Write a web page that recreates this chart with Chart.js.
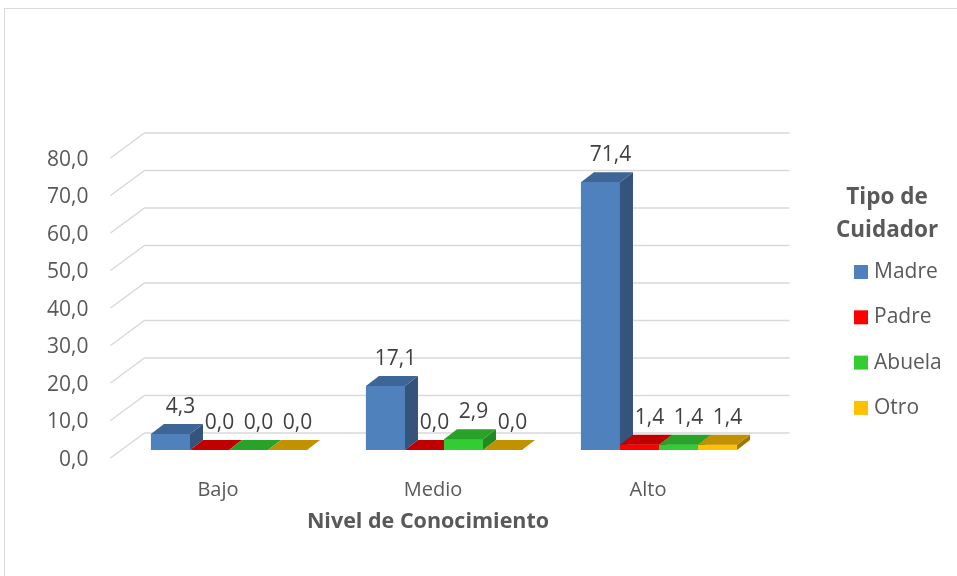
<!DOCTYPE html>
<html>
<head>
<meta charset="utf-8">
<script src="https://cdn.jsdelivr.net/npm/chart.js@4.4.1/dist/chart.umd.min.js"></script>
<style>
  html, body { margin: 0; padding: 0; background: #fff; }
  canvas { display: block; }
</style>
</head>
<body>
<canvas id="chart" width="957" height="576"></canvas>
<script>
// Data
const categories = ['Bajo', 'Medio', 'Alto'];
const seriesNames = ['Madre', 'Padre', 'Abuela', 'Otro'];
const madre = [4.3, 17.1, 71.4];
const padre = [0.0, 0.0, 1.4];
const abuela = [0.0, 2.9, 1.4];
const otro = [0.0, 0.0, 1.4];
const yTicks = [0, 10, 20, 30, 40, 50, 60, 70, 80];
const legendTitle = ['Tipo de', 'Cuidador'];
const xTitle = 'Nivel de Conocimiento';

// Colours (front / top / side faces)
const frontColors = ['#4F81BD', '#FF0000', '#33CC33', '#FFC000'];
const topColors = ['#3D6596', '#C00000', '#29A229', '#C09100'];
const sideColors = ['#34547C', '#A00000', '#208A20', '#A07800'];

const FONT = "'Open Sans', sans-serif";
const TEXT = '#595959';

// 3D geometry: depth of a bar, and where the front edge / back wall sit
const DX = 13, DY = 10;
const FRONT_X = -11, FRONT_Y = 8;
const BACK_X = 23, BACK_Y = -17;

const fmt = v => v.toFixed(1).replace('.', ',');

function poly(ctx, pts) {
    ctx.beginPath();
    ctx.moveTo(pts[0][0], pts[0][1]);
    for (let i = 1; i < pts.length; i++) ctx.lineTo(pts[i][0], pts[i][1]);
    ctx.closePath();
    ctx.fill();
}

const bars3d = {
    id: 'bars3d',
    beforeDraw(chart) {
        const ctx = chart.ctx;
        ctx.save();
        ctx.strokeStyle = '#D9D9D9';
        ctx.lineWidth = 1;
        ctx.strokeRect(4.5, 8.5, 1200, 1200);
        ctx.restore();
    },
    beforeDatasetsDraw(chart) {
        // back wall grid with the slanted side wall part
        const { ctx, chartArea, scales: { y } } = chart;
        ctx.save();
        ctx.strokeStyle = '#D9D9D9';
        ctx.lineWidth = 1.5;
        y.ticks.forEach(t => {
            const py = y.getPixelForValue(t.value);
            ctx.beginPath();
            ctx.moveTo(chartArea.left + FRONT_X, py + FRONT_Y);
            ctx.lineTo(chartArea.left + BACK_X, py + BACK_Y);
            ctx.lineTo(chartArea.right + BACK_X, py + BACK_Y);
            ctx.stroke();
        });
        ctx.restore();
    },
    afterDatasetsDraw(chart) {
        const ctx = chart.ctx;
        const metas = chart.data.datasets.map((d, i) => chart.getDatasetMeta(i));
        ctx.save();
        categories.forEach((c, ci) => {
            metas.forEach((meta, di) => {
                const bar = meta.data[ci];
                const x0 = bar.x - bar.width / 2, x1 = bar.x + bar.width / 2;
                const top = bar.y, base = bar.base;
                if (base - top > 0.5) {
                    ctx.fillStyle = frontColors[di];
                    ctx.fillRect(x0, top, x1 - x0, base - top);
                    ctx.fillStyle = sideColors[di];
                    poly(ctx, [[x1, top], [x1 + DX, top - DY], [x1 + DX, base - DY], [x1, base]]);
                }
                ctx.fillStyle = topColors[di];
                poly(ctx, [[x0, top], [x1, top], [x1 + DX, top - DY], [x0 + DX, top - DY]]);
            });
        });
        // value labels
        ctx.fillStyle = '#404040';
        ctx.font = '21px ' + FONT;
        ctx.textAlign = 'center';
        ctx.textBaseline = 'middle';
        metas.forEach((meta, di) => {
            meta.data.forEach((bar, ci) => {
                const v = chart.data.datasets[di].data[ci];
                ctx.fillText(fmt(v), bar.x + 10, bar.y - 27);
            });
        });
        ctx.restore();
    },
    afterDraw(chart) {
        const { ctx, chartArea } = chart;
        ctx.save();
        ctx.fillStyle = TEXT;
        ctx.textAlign = 'center';
        ctx.textBaseline = 'middle';
        // x axis title
        ctx.font = 'bold 21.5px ' + FONT;
        ctx.fillText(xTitle, (chartArea.left + chartArea.right) / 2 + FRONT_X - 5, 522);
        // legend
        ctx.font = 'bold 22.5px ' + FONT;
        legendTitle.forEach((line, i) => ctx.fillText(line, 887, 198 + i * 33));
        ctx.font = '21px ' + FONT;
        ctx.textAlign = 'left';
        chart.data.datasets.forEach((ds, i) => {
            const cy = 272 + i * 45.3;
            ctx.fillStyle = frontColors[i];
            ctx.fillRect(854, cy - 7, 14, 14);
            ctx.fillStyle = TEXT;
            ctx.fillText(ds.label, 874, cy);
        });
        ctx.restore();
    }
};

const seriesData = [madre, padre, abuela, otro];

new Chart(document.getElementById('chart'), {
    type: 'bar',
    data: {
        labels: categories,
        datasets: seriesNames.map((name, i) => ({
            label: name,
            data: seriesData[i],
            backgroundColor: frontColors[i],
            borderWidth: 0,
            barPercentage: 1,
            categoryPercentage: 0.726
        }))
    },
    options: {
        responsive: false,
        animation: false,
        devicePixelRatio: 1,
        layout: { padding: { left: 0, right: 190.5, top: 150, bottom: 0 } },
        plugins: {
            legend: { display: false },
            tooltip: { enabled: false }
        },
        scales: {
            x: {
                grid: { display: false, drawTicks: false },
                border: { display: false },
                ticks: {
                    color: TEXT,
                    font: { family: FONT, size: 20 },
                    labelOffset: FRONT_X,
                    padding: 28
                },
                afterFit: s => { s.height = 126; }
            },
            y: {
                min: 0,
                max: 80,
                grid: { display: false, drawTicks: false },
                border: { display: false },
                afterBuildTicks: s => { s.ticks = yTicks.map(v => ({ value: v })); },
                ticks: {
                    color: TEXT,
                    font: { family: FONT, size: 21 },
                    labelOffset: FRONT_Y + 2,
                    padding: 33,
                    callback: v => fmt(v)
                },
                afterFit: s => { s.width = 121.5; }
            }
        }
    },
    plugins: [bars3d]
});
</script>
</body>
</html>
